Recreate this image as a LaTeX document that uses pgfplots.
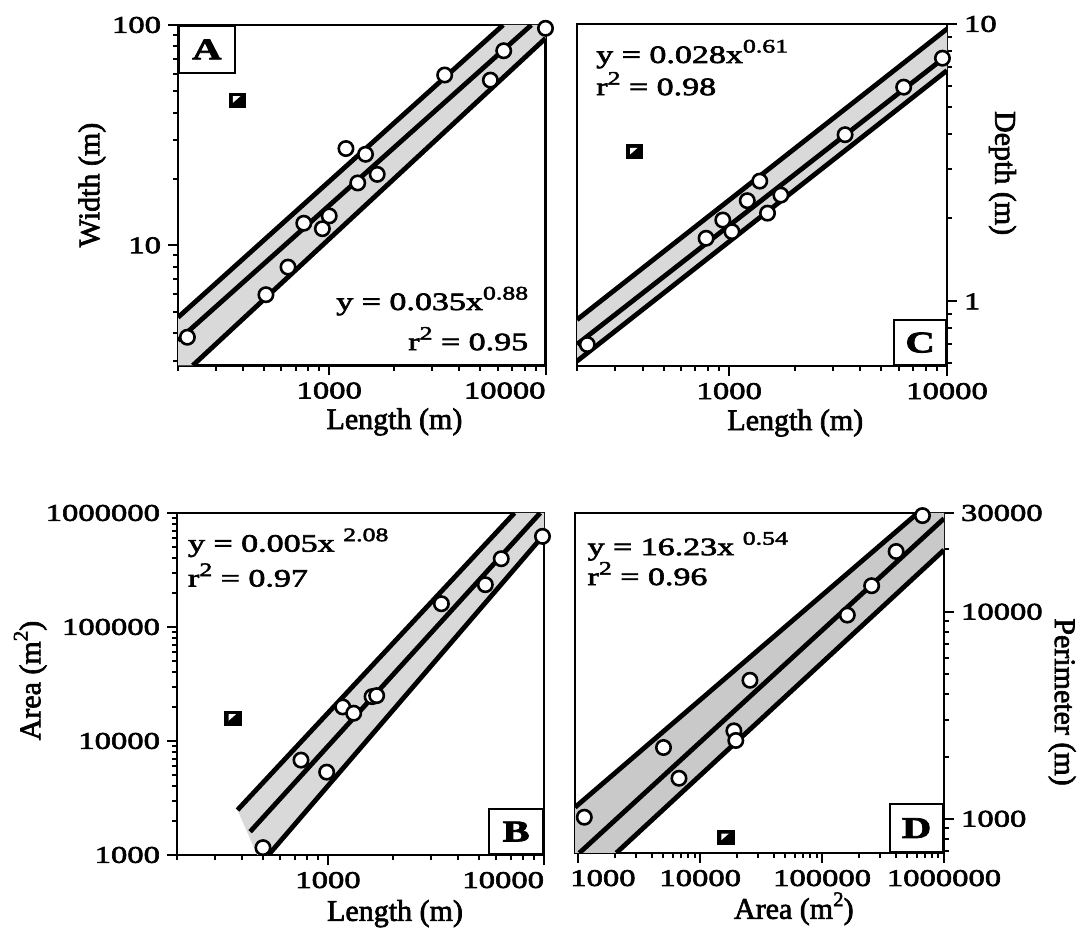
\documentclass[border=0pt]{standalone}
\usepackage{fontspec}
\setmainfont{Liberation Serif}[FakeStretch=1.36, FakeBold=2.6]
\newfontfamily\labfont{Liberation Serif}[FakeBold=2.2]
\usepackage{pgfplots}
\pgfplotsset{compat=1.18}
\pgfdeclareplotmark{outlier}{%
  \pgfpathrectangle{\pgfpoint{-\pgfplotmarksize}{-0.85\pgfplotmarksize}}{\pgfpoint{2\pgfplotmarksize}{1.7\pgfplotmarksize}}%
  \pgfsetfillcolor{black}\pgfusepathqfill
  \pgfpathmoveto{\pgfpoint{-0.5\pgfplotmarksize}{0.45\pgfplotmarksize}}%
  \pgfpathlineto{\pgfpoint{0.35\pgfplotmarksize}{0.45\pgfplotmarksize}}%
  \pgfpathlineto{\pgfpoint{-0.5\pgfplotmarksize}{-0.3\pgfplotmarksize}}%
  \pgfpathclose
  \pgfsetfillcolor{white}\pgfusepathqfill
}
\newcommand{\upx}[1]{\raisebox{0.42em}{\fontsize{9.5}{10}\selectfont #1}}
\newcommand{\lupx}[1]{\raisebox{0.42em}{\fontsize{10.5}{11}\selectfont #1}}
\pgfplotsset{
  mypanel/.style={
    scale only axis,
    axis line style={line width=1.2pt},
    every tick/.style={black, line width=1pt},
    major tick length=5pt, minor tick length=2.6pt,
    tick align=outside,
    xtick pos=bottom,
    font=\fontsize{12}{14}\selectfont,
    tick label style={font=\fontsize{12}{14}\selectfont},
    label style={font=\labfont\fontsize{15}{17}\selectfont},
  },
  fitline/.style={black, line width=2.4pt, no marks},
  band/.style={fill=gray!30, draw=none, no marks},
  pts/.style={only marks, mark=*, mark size=3.6pt, mark options={fill=white, draw=black, line width=1.3pt}},
  outl/.style={only marks, mark=outlier, mark size=4.4pt},
}
\tikzset{
  letter/.style={draw, line width=0.9pt, fill=white, inner sep=0pt, font=\fontsize{15}{16}\selectfont\bfseries},
  eq/.style={font=\fontsize{12.5}{14}\selectfont, inner sep=0pt},
}
\begin{document}
\begin{tikzpicture}
\path[use as bounding box] (0,0) rectangle (544pt,476pt);
% ---------------- Panel A ----------------
\begin{loglogaxis}[mypanel, at={(89pt,293.25pt)}, anchor=south west, width=183.75pt, height=170.25pt,
  xmin=200, xmax=10000, ymin=2.85, ymax=100,
  xtick={1000,10000}, xticklabels={1000,\makebox[0pt][r]{10000}},
  minor xtick={200,300,400,500,600,700,800,900,2000,3000,4000,5000,6000,7000,8000,9000},
  ytick={10,100}, yticklabels={10,100},
  minor ytick={3,4,5,6,7,8,9,20,30,40,50,60,70,80,90},
  ytick pos=left,
  xlabel={Length (m)}, ylabel={Width (m)},
  xlabel style={at={(axis description cs:0.589,-0.169)}, anchor=base, yshift=-3pt},
  ylabel style={at={(axis description cs:-0.234,0.53)}, anchor=center}]
\addplot[band] coordinates {(200,4.71) (6370,100) (10000,100) (10000,87) (234,2.85) (200,2.85)} -- cycle;
\addplot[fitline] coordinates {(200,4.71) (6370,100)};
\addplot[fitline] coordinates {(200,3.7) (8600,100)};
\addplot[fitline] coordinates {(234,2.85) (10000,87)};
\addplot[pts] coordinates {(221,3.83) (510,5.97) (645,7.97) (763,12.6) (930,11.9) (1000,13.6) (1195,27.5) (1472,25.9) (1355,19.2) (1667,21.0) (3420,59.3) (5560,56.2) (6410,76.4) (10000,96.6)};
\addplot[outl] coordinates {(376,45.6)};
\node[letter, anchor=north west, minimum width=28pt, minimum height=23.5pt] at (rel axis cs:0,1) {A};
\node[eq, anchor=base east] at (rel axis cs:0.954,0.163) {y = 0.035x\upx{0.88}};
\node[eq, anchor=base east] at (rel axis cs:0.954,0.045) {r\upx{2} = 0.95};
\end{loglogaxis}
% ---------------- Panel C ----------------
\begin{loglogaxis}[mypanel, at={(288.5pt,293pt)}, anchor=south west, width=185pt, height=171pt,
  xmin=200, xmax=10000, ymin=0.585, ymax=10,
  xtick={1000,10000}, xticklabels={1000,10000},
  minor xtick={200,300,400,500,600,700,800,900,2000,3000,4000,5000,6000,7000,8000,9000},
  ytick={1,10}, yticklabels={1,10},
  minor ytick={0.6,0.7,0.8,0.9,2,3,4,5,6,7,8,9},
  ytick pos=right, yticklabel pos=right,
  xlabel={Length (m)}, ylabel={Depth (m)},
  xlabel style={at={(axis description cs:0.59,-0.17)}, anchor=base, yshift=-3pt},
  ylabel style={rotate=180, at={(axis description cs:1.15,0.564)}, anchor=center}]
\addplot[band] coordinates {(200,0.859) (10000,9.6) (10000,6.8) (200,0.609)} -- cycle;
\addplot[fitline] coordinates {(200,0.859) (10000,9.6)};
\addplot[fitline] coordinates {(200,0.70) (10000,7.7)};
\addplot[fitline] coordinates {(200,0.609) (10000,6.8)};
\addplot[pts] coordinates {(223,0.699) (783,1.689) (934,1.965) (1029,1.784) (1210,2.307) (1381,2.714) (1499,2.08) (1726,2.417) (3404,3.99) (6325,5.92) (9530,7.53)};
\addplot[outl] coordinates {(367,3.46)};
\node[letter, anchor=south east, minimum width=26pt, minimum height=22.5pt] at (rel axis cs:1,0) {C};
\node[eq, anchor=base west] at (rel axis cs:0.051,0.886) {y = 0.028x\upx{0.61}};
\node[eq, anchor=base west] at (rel axis cs:0.051,0.792) {r\upx{2} = 0.98};
\end{loglogaxis}
% ---------------- Panel B ----------------
\begin{loglogaxis}[mypanel, at={(88.5pt,48.5pt)}, anchor=south west, width=183.5pt, height=171pt,
  xmin=200, xmax=10000, ymin=1000, ymax=1000000,
  xtick={1000,10000}, xticklabels={1000,\makebox[0pt][r]{10000}},
  minor xtick={200,300,400,500,600,700,800,900,2000,3000,4000,5000,6000,7000,8000,9000},
  ytick={1000,10000,100000,1000000}, yticklabels={1000,10000,100000,1000000},
  minor ytick={2000,3000,4000,5000,6000,7000,8000,9000,20000,30000,40000,50000,60000,70000,80000,90000,200000,300000,400000,500000,600000,700000,800000,900000},
  ytick pos=left,
  xlabel={Length (m)}, ylabel={Area (m\lupx{2})},
  xlabel style={at={(axis description cs:0.594,-0.175)}, anchor=base, yshift=-3pt},
  ylabel style={at={(axis description cs:-0.40,0.51)}, anchor=center}]
\addplot[band] coordinates {(381,2480) (7300,1000000) (10000,1000000) (10000,646000) (530,1000) (470,1000)} -- cycle;
\addplot[fitline] coordinates {(381,2480) (7300,1000000)};
\addplot[fitline] coordinates {(436,1600) (9600,1000000)};
\addplot[fitline] coordinates {(530,1000) (10000,646000)};
\addplot[pts] coordinates {(500,1160) (750,6800) (986,5330) (1170,19900) (1315,17530) (1600,24500) (1680,25000) (3350,160000) (5350,235000) (6340,397000) (9840,624000)};
\addplot[outl] coordinates {(363,15850)};
\node[letter, anchor=south east, minimum width=27pt, minimum height=22.5pt] at (rel axis cs:1,0) {B};
\node[eq, anchor=base west] at (rel axis cs:0.029,0.887) {y = 0.005x \upx{2.08}};
\node[eq, anchor=base west] at (rel axis cs:0.029,0.785) {r\upx{2} = 0.97};
\end{loglogaxis}
% ---------------- Panel D ----------------
\begin{loglogaxis}[mypanel, at={(287.5pt,49.5pt)}, anchor=south west, width=184.5pt, height=170pt,
  xmin=940, xmax=1000000, ymin=684, ymax=30000,
  xtick={1000,10000,100000,1000000}, xticklabels={\makebox[0pt][l]{\hspace*{-4pt}1000},10000,100000,1000000},
  minor xtick={2000,3000,4000,5000,6000,7000,8000,9000,20000,30000,40000,50000,60000,70000,80000,90000,200000,300000,400000,500000,600000,700000,800000,900000},
  ytick={1000,10000,30000}, yticklabels={1000,10000,30000},
  minor ytick={700,800,900,2000,3000,4000,5000,6000,7000,8000,9000,20000},
  ytick pos=right, yticklabel pos=right,
  xlabel={Area (m\lupx{2})}, ylabel={Perimeter (m)},
  xlabel style={at={(axis description cs:0.593,-0.176)}, anchor=base, yshift=-3pt},
  ylabel style={rotate=180, at={(axis description cs:1.32,0.444)}, anchor=center}]
\addplot[band, fill=gray!42] coordinates {(940,1136) (610000,30000) (1000000,30000) (1000000,19900) (2050,684) (940,684)} -- cycle;
\addplot[fitline] coordinates {(940,1136) (610000,30000)};
\addplot[fitline] coordinates {(1020,684) (1000000,28200)};
\addplot[fitline] coordinates {(2050,684) (1000000,19900)};
\addplot[pts] coordinates {(1120,1018) (5000,2210) (6700,1570) (18900,2660) (19600,2390) (25600,4670) (161000,9640) (255000,13360) (405000,19550) (666000,29140)};
\addplot[outl] coordinates {(16200,812)};
\node[letter, anchor=south east, minimum width=26.5pt, minimum height=24pt] at (rel axis cs:1,0) {D};
\node[eq, anchor=base west] at (rel axis cs:0.033,0.876) {y = 16.23x \upx{0.54}};
\node[eq, anchor=base west] at (rel axis cs:0.033,0.788) {r\upx{2} = 0.96};
\end{loglogaxis}
\end{tikzpicture}
\end{document}
